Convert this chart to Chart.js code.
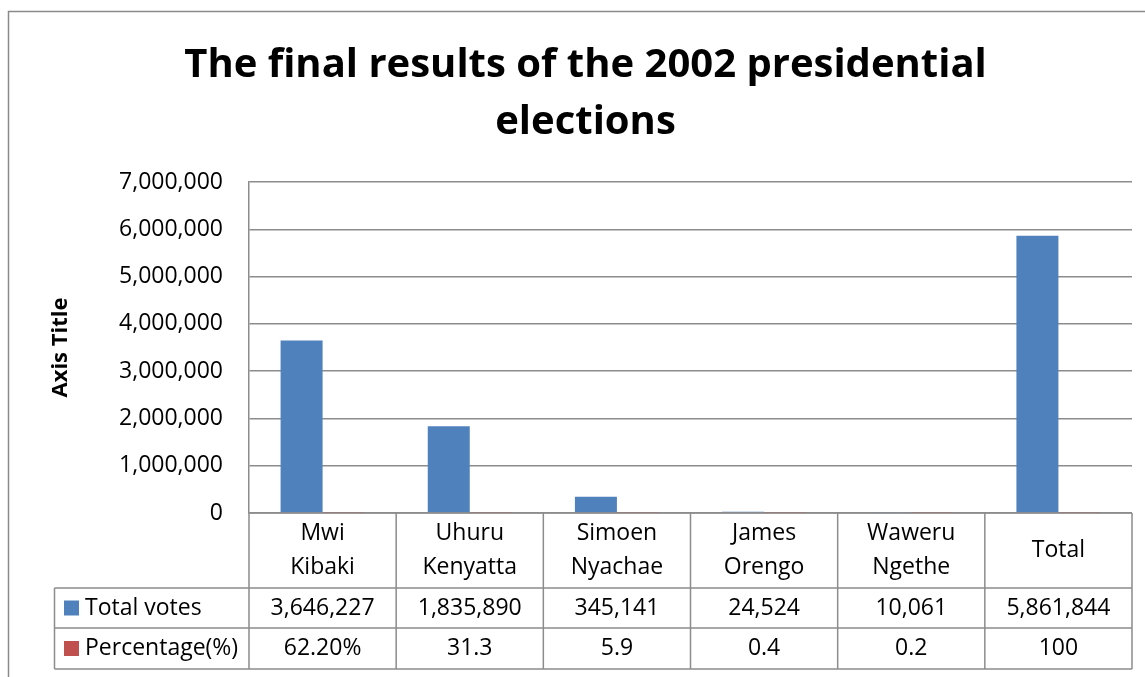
<!DOCTYPE html>
<html>
<head>
<meta charset="utf-8">
<script src="https://cdn.jsdelivr.net/npm/chart.js@4.4.1/dist/chart.umd.min.js"></script>
<style>
  html, body { margin: 0; padding: 0; background: #fff; }
  #wrap { width: 1145px; height: 677px; }
</style>
</head>
<body>
<div id="wrap"><canvas id="c" width="1145" height="677"></canvas></div>
<script>
const categories = [['Mwi', 'Kibaki'], ['Uhuru', 'Kenyatta'], ['Simoen', 'Nyachae'], ['James', 'Orengo'], ['Waweru', 'Ngethe'], ['Total']];
const seriesNames = ['Total votes', 'Percentage(%)'];
const totalVotes = [3646227, 1835890, 345141, 24524, 10061, 5861844];
const percentage = [62.2, 31.3, 5.9, 0.4, 0.2, 100];
const percentageLabels = ['62.20%', '31.3', '5.9', '0.4', '0.2', '100'];
const yMin = 0, yMax = 7000000, yStep = 1000000;

const BLUE = '#4f81bd', RED = '#c0504d', GRID = '#8c8c8c';
const FONT = "'Open Sans', 'Noto Sans', sans-serif";

const fmt = v => Number(v).toLocaleString('en-US');

const frame = {
  id: 'frame',
  beforeDraw(chart) {
    const ctx = chart.ctx;
    ctx.save();
    ctx.fillStyle = '#fff';
    ctx.fillRect(0, 0, chart.width, chart.height);
    ctx.strokeStyle = '#8a8a8a';
    ctx.lineWidth = 1.5;
    ctx.strokeRect(8.5, 11.5, 2000, 2000);
    ctx.restore();
  }
};

const dataTable = {
  id: 'dataTable',
  afterDraw(chart) {
    const ctx = chart.ctx;
    const xs = chart.scales.x;
    const area = chart.chartArea;
    const n = categories.length;
    const half = (xs.getPixelForTick(1) - xs.getPixelForTick(0)) / 2;
    const bounds = [];
    for (let i = 0; i < n; i++) bounds.push(xs.getPixelForTick(i) - half);
    bounds.push(xs.getPixelForTick(n - 1) + half);
    const top = area.bottom, headB = 588, r1B = 628, r2B = 669, tableL = 54.5;
    ctx.save();
    ctx.strokeStyle = GRID;
    ctx.lineWidth = 1.5;
    ctx.beginPath();
    ctx.moveTo(bounds[0], top); ctx.lineTo(bounds[n], top);
    [headB, r1B, r2B].forEach(y => { ctx.moveTo(tableL, y); ctx.lineTo(bounds[n], y); });
    bounds.forEach(x => { ctx.moveTo(x, top); ctx.lineTo(x, r2B); });
    ctx.moveTo(tableL, headB); ctx.lineTo(tableL, r2B);
    ctx.stroke();

    ctx.fillStyle = '#000';
    ctx.font = '23px ' + FONT;
    ctx.textAlign = 'center';
    ctx.textBaseline = 'middle';
    const headC = (top + headB) / 2, lh = 34;
    categories.forEach((lines, i) => {
      const cx = (bounds[i] + bounds[i + 1]) / 2;
      lines.forEach((t, j) => {
        ctx.fillText(t, cx, headC + (j - (lines.length - 1) / 2) * lh);
      });
    });
    const row1C = (headB + r1B) / 2, row2C = (r1B + r2B) / 2;
    totalVotes.forEach((v, i) => ctx.fillText(fmt(v), (bounds[i] + bounds[i + 1]) / 2, row1C));
    percentageLabels.forEach((t, i) => ctx.fillText(t, (bounds[i] + bounds[i + 1]) / 2, row2C));

    ctx.textAlign = 'left';
    [[BLUE, row1C], [RED, row2C]].forEach(([c, y], k) => {
      ctx.fillStyle = c;
      ctx.fillRect(64, y - 7.5, 15, 15);
      ctx.fillStyle = '#000';
      ctx.fillText(seriesNames[k], 85, y);
    });
    ctx.restore();
  }
};

new Chart(document.getElementById('c'), {
  type: 'bar',
  data: {
    labels: categories,
    datasets: [
      { label: seriesNames[0], data: totalVotes, backgroundColor: BLUE },
      { label: seriesNames[1], data: percentage, backgroundColor: RED }
    ]
  },
  options: {
    responsive: false,
    animation: false,
    devicePixelRatio: 1,
    categoryPercentage: 0.5707,
    barPercentage: 1,
    layout: { padding: { left: 39, right: 13, top: 0, bottom: 164 } },
    plugins: {
      legend: { display: false },
      tooltip: { enabled: false },
      title: {
        display: true,
        text: ['The final results of the 2002 presidential', 'elections'],
        color: '#000',
        font: { family: FONT, weight: 'bold', size: 40, lineHeight: 57 / 40 },
        padding: { top: 37, bottom: 31 }
      }
    },
    scales: {
      x: { display: false },
      y: {
        min: yMin, max: yMax,
        afterFit(scale) { scale.width = 210; },
        ticks: {
          stepSize: yStep,
          color: '#000',
          padding: 26,
          font: { family: FONT, size: 23 },
          callback: v => fmt(v)
        },
        grid: { color: GRID, lineWidth: 1.5, drawTicks: false },
        border: { display: true, color: GRID, width: 1.5 },
        title: {
          display: true,
          text: 'Axis Title',
          color: '#000',
          font: { family: FONT, weight: 'bold', size: 22 },
          padding: { top: 9, bottom: 0 }
        }
      }
    }
  },
  plugins: [frame, dataTable]
});
</script>
</body>
</html>
